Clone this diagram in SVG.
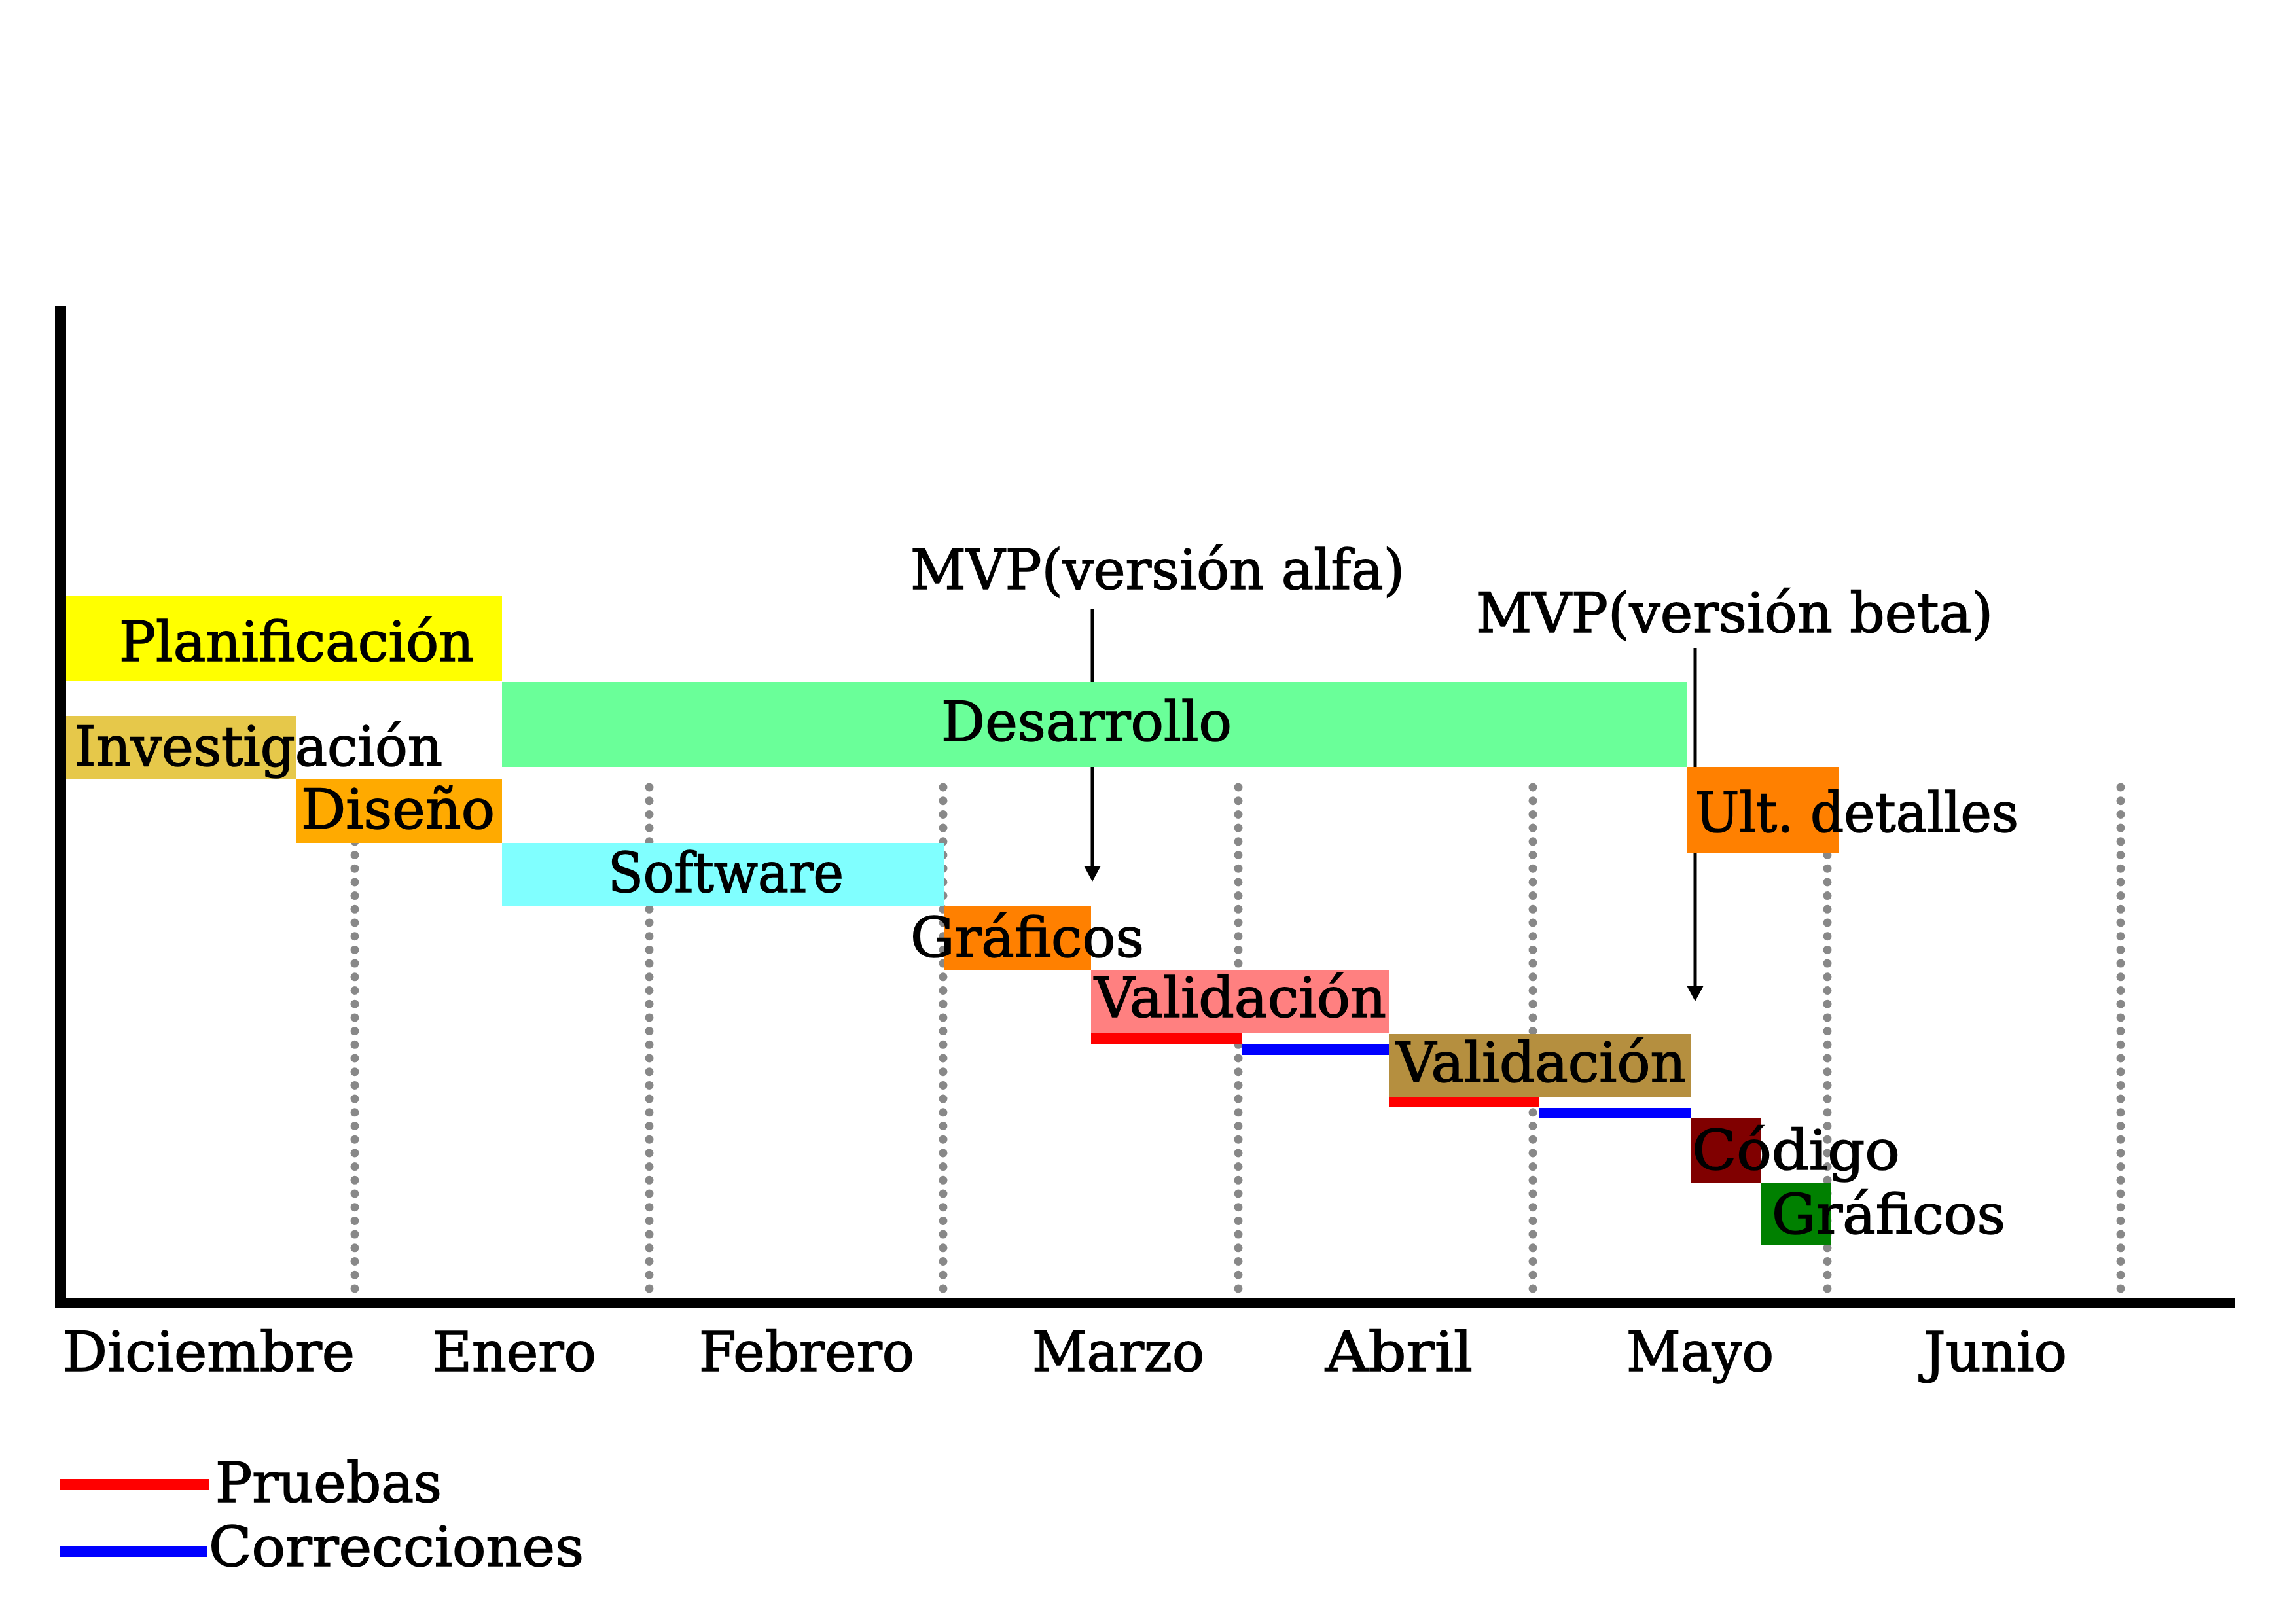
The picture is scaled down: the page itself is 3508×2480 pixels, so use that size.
<svg xmlns="http://www.w3.org/2000/svg" width="3508" height="2480" viewBox="0 0 3508 2480">
  <style>
    text { font-family: "DejaVu Serif", "Liberation Serif", serif; font-size: 84px; fill: #000; stroke: #000; stroke-width: 1.6px; }
    .grid { stroke: #888888; stroke-width: 13; stroke-linecap: round; stroke-dasharray: 0 20.7; fill: none; }
    .arrow { stroke: #000; stroke-width: 5; fill: none; }
  </style>

  <rect width="3508" height="2480" fill="#fff"/>

  <!-- month grid lines -->
  <g id="grid">
    <line class="grid" x1="542" y1="1203" x2="542" y2="1969"/>
    <line class="grid" x1="992" y1="1203" x2="992" y2="1969"/>
    <line class="grid" x1="1441" y1="1203" x2="1441" y2="1969"/>
    <line class="grid" x1="1892" y1="1203" x2="1892" y2="1969"/>
    <line class="grid" x1="2342" y1="1203" x2="2342" y2="1969"/>
    <line class="grid" x1="2792" y1="1203" x2="2792" y2="1969"/>
    <line class="grid" x1="3240" y1="1203" x2="3240" y2="1969"/>
  </g>

  <!-- milestone arrows -->
  <g id="connectors">
    <line class="arrow" x1="1669" y1="930" x2="1669" y2="1324"/>
    <path d="M1656,1323 L1682,1323 L1669,1347 Z" fill="#000"/>
    <line class="arrow" x1="2590" y1="990" x2="2590" y2="1507"/>
    <path d="M2577,1506 L2603,1506 L2590,1530 Z" fill="#000"/>
  </g>

  <!-- task bars -->
  <g id="planificacion">
    <rect x="101" y="911" width="666" height="130" fill="#FFFF00"/>
    <text x="182" y="1010" textLength="542" lengthAdjust="spacingAndGlyphs">Planificación</text>
  </g>
  <g id="desarrollo">
    <rect x="767" y="1042" width="1810" height="130" fill="#6AFF99"/>
    <text x="1438" y="1132" textLength="444" lengthAdjust="spacingAndGlyphs">Desarrollo</text>
  </g>
  <g id="investigacion">
    <rect x="101" y="1094" width="351" height="96" fill="#E6C84A"/>
    <text x="114" y="1170" textLength="562" lengthAdjust="spacingAndGlyphs">Investigación</text>
  </g>
  <g id="diseno">
    <rect x="452" y="1190" width="315" height="98" fill="#FFAA00"/>
    <text x="460" y="1266" textLength="296" lengthAdjust="spacingAndGlyphs">Diseño</text>
  </g>
  <g id="ult-detalles">
    <rect x="2577" y="1172" width="233" height="131" fill="#FF8000"/>
    <text x="2590" y="1271" textLength="494" lengthAdjust="spacingAndGlyphs">Ult. detalles</text>
  </g>
  <g id="software">
    <rect x="767" y="1288" width="676" height="97" fill="#80FFFF"/>
    <text x="929" y="1363" textLength="360" lengthAdjust="spacingAndGlyphs">Software</text>
  </g>
  <g id="graficos-1">
    <rect x="1443" y="1385" width="224" height="97" fill="#FF8000"/>
    <text x="1391" y="1462" textLength="357" lengthAdjust="spacingAndGlyphs">Gráficos</text>
  </g>
  <g id="validacion-1">
    <rect x="1667" y="1482" width="455" height="97" fill="#FF8080"/>
    <rect x="1667" y="1579" width="230" height="16" fill="#FF0000"/>
    <rect x="1897" y="1596" width="225" height="16" fill="#0000FF"/>
    <text x="1672" y="1554" textLength="446" lengthAdjust="spacingAndGlyphs">Validación</text>
  </g>
  <g id="validacion-2">
    <rect x="2122" y="1580" width="462" height="96" fill="#B58F3F"/>
    <rect x="2122" y="1676" width="230" height="16" fill="#FF0000"/>
    <rect x="2352" y="1693" width="232" height="16" fill="#0000FF"/>
    <text x="2133" y="1653" textLength="443" lengthAdjust="spacingAndGlyphs">Validación</text>
  </g>
  <g id="codigo">
    <rect x="2584" y="1709" width="107" height="98" fill="#800000"/>
    <text x="2585" y="1787" textLength="318" lengthAdjust="spacingAndGlyphs">Código</text>
  </g>
  <g id="graficos-2">
    <rect x="2691" y="1807" width="107" height="96" fill="#008000"/>
    <text x="2707" y="1885" textLength="357" lengthAdjust="spacingAndGlyphs">Gráficos</text>
  </g>

  <!-- milestone labels -->
  <g id="mvp-alfa">
    <text x="1391" y="900" textLength="755" lengthAdjust="spacingAndGlyphs">MVP(versión alfa)</text>
  </g>
  <g id="mvp-beta">
    <text x="2255" y="966" textLength="790" lengthAdjust="spacingAndGlyphs">MVP(versión beta)</text>
  </g>

  <!-- axes -->
  <g id="axes">
    <rect x="84" y="467" width="17" height="1532" fill="#000"/>
    <rect x="84" y="1983" width="3331" height="16" fill="#000"/>
  </g>

  <!-- month labels -->
  <g id="months">
    <text x="96" y="2095" textLength="446" lengthAdjust="spacingAndGlyphs">Diciembre</text>
    <text x="661" y="2095" textLength="250" lengthAdjust="spacingAndGlyphs">Enero</text>
    <text x="1068" y="2095" textLength="329" lengthAdjust="spacingAndGlyphs">Febrero</text>
    <text x="1577" y="2095" textLength="263" lengthAdjust="spacingAndGlyphs">Marzo</text>
    <text x="2025" y="2095" textLength="225" lengthAdjust="spacingAndGlyphs">Abril</text>
    <text x="2485" y="2095" textLength="225" lengthAdjust="spacingAndGlyphs">Mayo</text>
    <text x="2939" y="2095" textLength="219" lengthAdjust="spacingAndGlyphs">Junio</text>
  </g>

  <!-- legend -->
  <g id="legend">
    <rect x="91" y="2260" width="229" height="17" fill="#FF0000"/>
    <text x="329" y="2295" textLength="346" lengthAdjust="spacingAndGlyphs">Pruebas</text>
    <rect x="91" y="2363" width="225" height="16" fill="#0000FF"/>
    <text x="319" y="2393" textLength="573" lengthAdjust="spacingAndGlyphs">Correcciones</text>
  </g>
</svg>
